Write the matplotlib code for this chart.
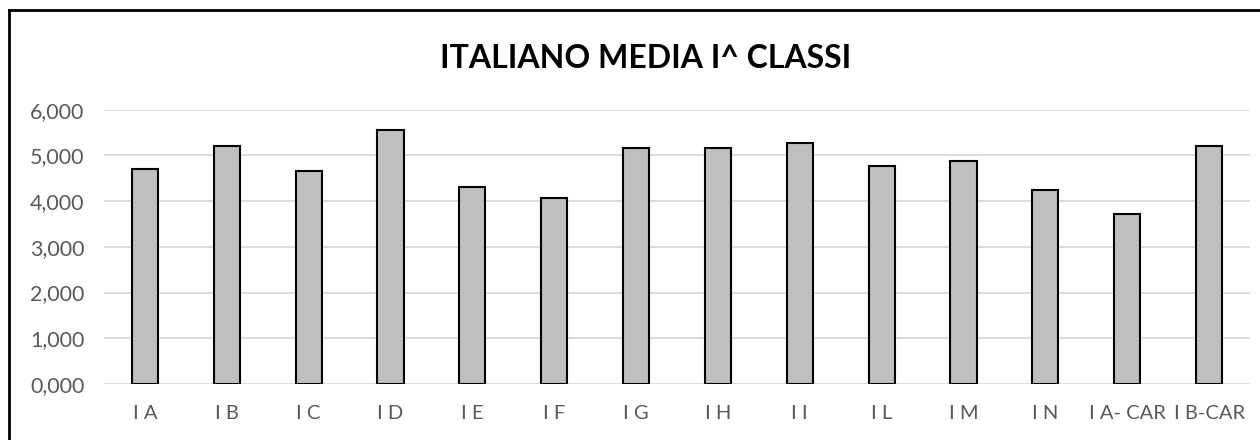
import numpy as np
import matplotlib.pyplot as plt
from matplotlib.lines import Line2D

plt.rcParams['font.family'] = ['Lato', 'DejaVu Sans']

classi = ['I A', 'I B', 'I C', 'I D', 'I E', 'I F', 'I G', 'I H', 'I I',
          'I L', 'I M', 'I N', 'I A- CAR', 'I B-CAR']
medie = [4.70, 5.20, 4.65, 5.56, 4.30, 4.07, 5.16, 5.15, 5.26,
         4.77, 4.88, 4.25, 3.72, 5.20]
yticks = [0, 1, 2, 3, 4, 5, 6]

fig = plt.figure(figsize=(12.6, 4.4), dpi=100)
ax = fig.add_axes([104/1260, 56/440, (1250-104)/1260, (384-109.6)/440])

x = np.arange(len(classi))
ax.bar(x, medie, width=0.32, color='#bfbfbf', edgecolor='black', linewidth=1.5, zorder=3)

ax.set_xlim(-0.5, len(classi) - 0.5)
ax.set_ylim(0, 6)
ax.set_yticks(yticks)
ax.set_yticklabels(['{:.3f}'.format(v).replace('.', ',') for v in yticks])
ax.set_xticks(x)
ax.set_xticklabels(classi)
ax.tick_params(axis='both', length=0, colors='#595959')
ax.tick_params(axis='y', pad=14, labelsize=15.5)
ax.tick_params(axis='x', pad=15, labelsize=14.5)
ax.grid(axis='y', color='#d9d9d9', linewidth=1.3, zorder=0)
for s in ax.spines.values():
    s.set_visible(False)

fig.text(646/1260, 1 - 58/440, 'ITALIANO MEDIA I^ CLASSI', ha='center', va='center',
         fontsize=23, fontweight='bold', color='black')

# outer chart border (left and top visible)
fig.add_artist(Line2D([9/1260, 9/1260], [0, 1 - 10/440], color='black', lw=2, transform=fig.transFigure))
fig.add_artist(Line2D([9/1260, 1], [1 - 10/440, 1 - 10/440], color='black', lw=2, transform=fig.transFigure))

fig.savefig('out.png', dpi=100)
